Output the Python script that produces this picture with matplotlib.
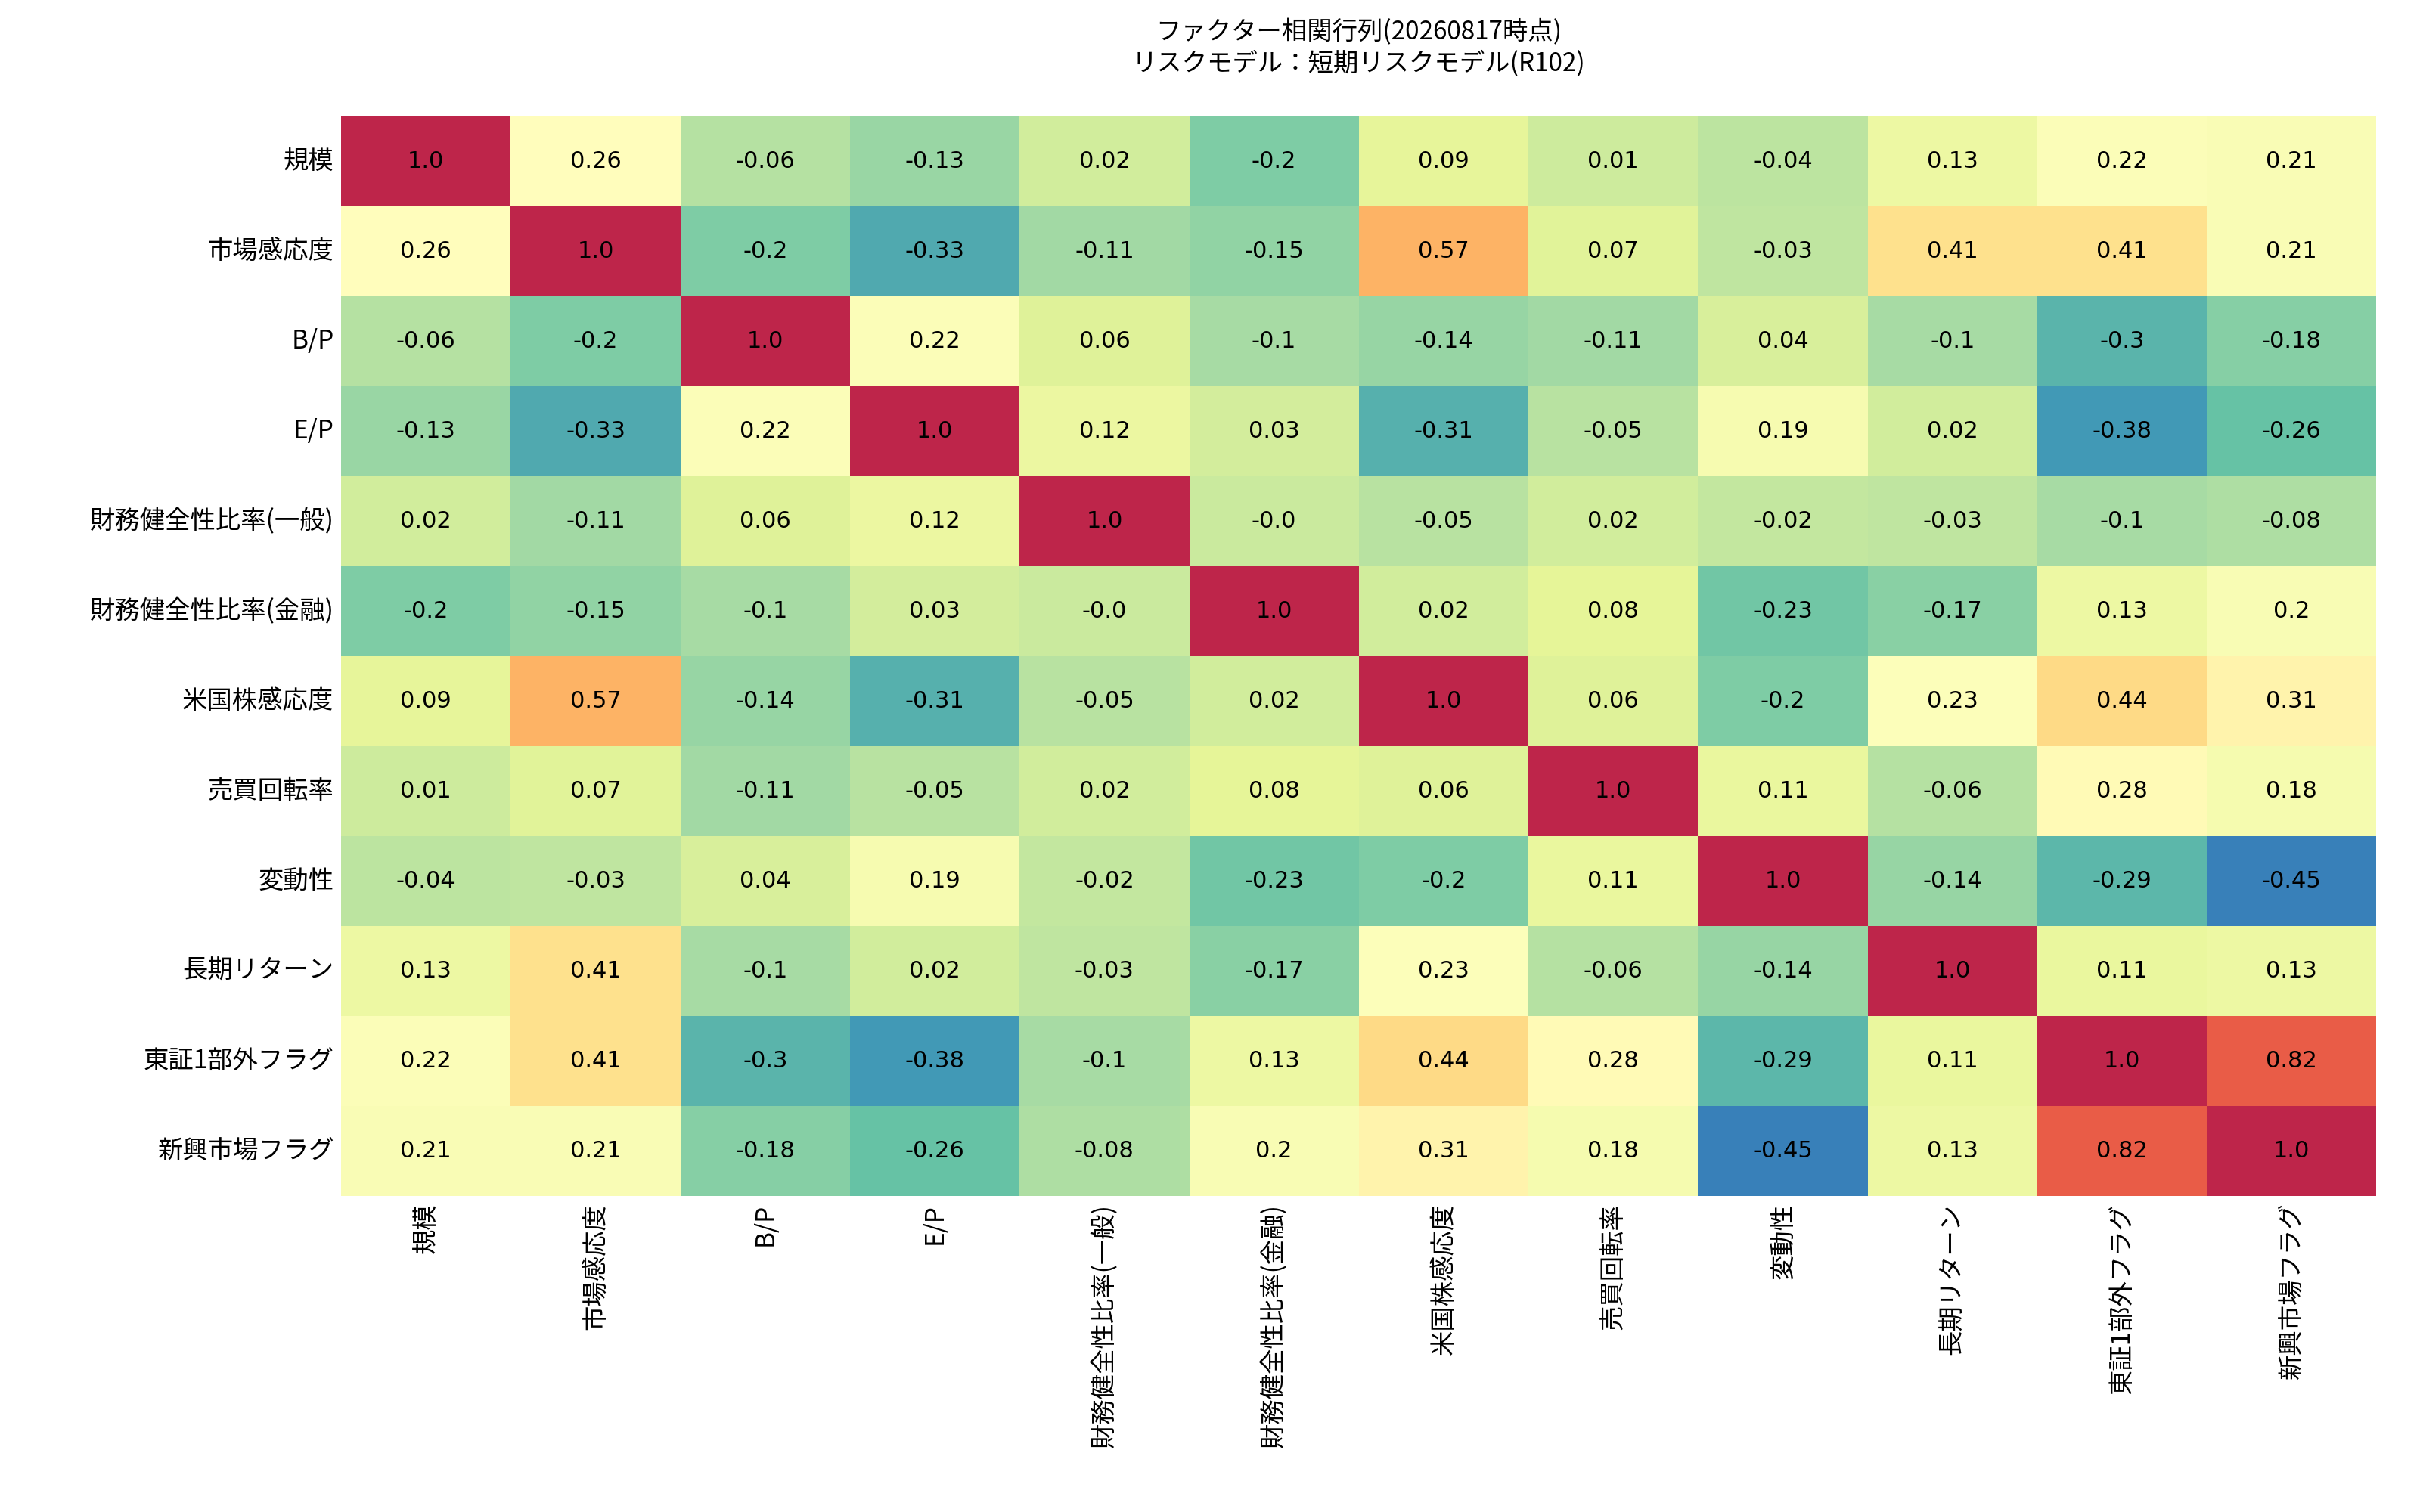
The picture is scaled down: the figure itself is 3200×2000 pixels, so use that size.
import numpy as np
import matplotlib
matplotlib.use("Agg")
from matplotlib import pyplot as plt
import seaborn as sns

plt.rcParams['font.family'] = ['Noto Sans CJK JP', 'DejaVu Sans']

factors = ["規模", "市場感応度", "B/P", "E/P", "財務健全性比率(一般)", "財務健全性比率(金融)",
           "米国株感応度", "売買回転率", "変動性", "長期リターン", "東証1部外フラグ", "新興市場フラグ"]

corr = np.array([
    [1.0, 0.26, -0.06, -0.13, 0.02, -0.2, 0.09, 0.01, -0.04, 0.13, 0.22, 0.21],
    [0.26, 1.0, -0.2, -0.33, -0.11, -0.15, 0.57, 0.07, -0.03, 0.41, 0.41, 0.21],
    [-0.06, -0.2, 1.0, 0.22, 0.06, -0.1, -0.14, -0.11, 0.04, -0.1, -0.3, -0.18],
    [-0.13, -0.33, 0.22, 1.0, 0.12, 0.03, -0.31, -0.05, 0.19, 0.02, -0.38, -0.26],
    [0.02, -0.11, 0.06, 0.12, 1.0, -0.0, -0.05, 0.02, -0.02, -0.03, -0.1, -0.08],
    [-0.2, -0.15, -0.1, 0.03, -0.0, 1.0, 0.02, 0.08, -0.23, -0.17, 0.13, 0.2],
    [0.09, 0.57, -0.14, -0.31, -0.05, 0.02, 1.0, 0.06, -0.2, 0.23, 0.44, 0.31],
    [0.01, 0.07, -0.11, -0.05, 0.02, 0.08, 0.06, 1.0, 0.11, -0.06, 0.28, 0.18],
    [-0.04, -0.03, 0.04, 0.19, -0.02, -0.23, -0.2, 0.11, 1.0, -0.14, -0.29, -0.45],
    [0.13, 0.41, -0.1, 0.02, -0.03, -0.17, 0.23, -0.06, -0.14, 1.0, 0.11, 0.13],
    [0.22, 0.41, -0.3, -0.38, -0.1, 0.13, 0.44, 0.28, -0.29, 0.11, 1.0, 0.82],
    [0.21, 0.21, -0.18, -0.26, -0.08, 0.2, 0.31, 0.18, -0.45, 0.13, 0.82, 1.0],
])

fig = plt.figure(figsize=(16, 10), dpi=200)
ax = fig.add_axes([0.141, 0.209, 0.841, 0.714])
labels = np.array([[str(v) for v in row] for row in corr])
sns.heatmap(corr, ax=ax, cmap="Spectral_r", vmin=-0.6, vmax=1.1, cbar=False,
            annot=labels, fmt="", annot_kws={"fontsize": 11, "color": "black",
                                            "family": "DejaVu Sans"},
            xticklabels=factors, yticklabels=factors)
ax.tick_params(length=0, labelsize=12)
plt.setp(ax.get_xticklabels(), rotation=90)
plt.setp(ax.get_yticklabels(), rotation=0)
ax.set_title("ファクター相関行列(20260817時点)\nリスクモデル：短期リスクモデル(R102)", fontsize=12, pad=22)

plt.savefig("out.png")
